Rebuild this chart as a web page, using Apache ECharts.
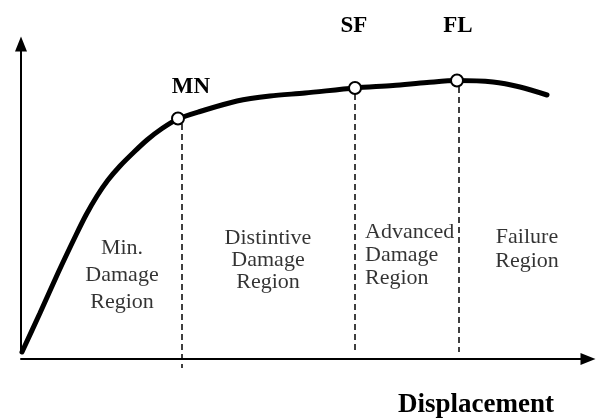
<!DOCTYPE html>
<html>
<head>
<meta charset="utf-8">
<script src="https://cdn.jsdelivr.net/npm/echarts@6/dist/echarts.min.js"></script>
<style>html,body{margin:0;padding:0;background:#fff;}</style>
</head>
<body>
<div id="main" style="width:596px;height:419px;"></div>
<script>
// load-displacement curve (arbitrary units)
var curveX = [1, 19, 37, 55, 65, 76, 87, 99, 112, 126, 141, 157, 179, 216, 249, 284, 334, 372, 406, 436, 472, 499, 526];
var curveY = [0, 39, 79, 117, 137, 156, 172, 186, 199, 212, 223.5, 233, 240.5, 251, 256, 259, 264, 266.5, 269.5, 271.5, 270, 265, 257];

// limit points
var pointNames = ['MN', 'SF', 'FL'];
var pointX = [157, 334, 436];
var pointY = [233.5, 264, 271.5];

// region borders (dashed)
var dashX = [161, 334, 438];
var dashTop = [228, 258, 265];
var dashBottom = [-16, -2, 0];

// region captions
var regionNames = ['Min.\nDamage\nRegion', 'Distintive\nDamage\nRegion', 'Advanced\nDamage\nRegion', 'Failure\nRegion'];
var regionX = [101, 247, 344, 506];
var regionY = [77, 92, 97, 103];

var serif = '"Liberation Serif", "Times New Roman", serif';
var myChart = echarts.init(document.getElementById('main'));

var series = [];
// dashed borders
for (var i = 0; i < dashX.length; i++) {
  series.push({
    type: 'line',
    data: [[dashX[i], dashTop[i]], [dashX[i], dashBottom[i]]],
    symbol: 'none',
    clip: false,
    silent: true,
    lineStyle: { color: '#000', width: 1.5, type: [6, 4] },
    z: 1
  });
}
// main curve
series.push({
  type: 'line',
  data: curveX.map(function (x, k) { return [x, curveY[k]]; }),
  smooth: 0.3,
  symbol: 'none',
  clip: false,
  lineStyle: { color: '#000', width: 5, cap: 'round' },
  z: 2
});
// points with labels
var labelOffsets = [[13, -31], [-1, -62], [1, -54]];
series.push({
  type: 'scatter',
  data: pointNames.map(function (n, k) {
    return {
      name: n,
      value: [pointX[k], pointY[k]],
      label: { offset: labelOffsets[k] }
    };
  }),
  symbol: 'circle',
  symbolSize: 12,
  itemStyle: { color: '#fff', borderColor: '#000', borderWidth: 2, opacity: 1 },
  label: {
    show: true,
    position: 'inside',
    formatter: '{b}',
    color: '#000',
    fontFamily: serif,
    fontWeight: 'bold',
    fontSize: 23
  },
  z: 3
});
// region captions
var regionStyle = [
  { lineHeight: 27, align: 'center' },
  { lineHeight: 22, align: 'center' },
  { lineHeight: 23, align: 'left' },
  { lineHeight: 24, align: 'center' }
];
series.push({
  type: 'scatter',
  data: regionNames.map(function (n, k) {
    return {
      name: n,
      value: [regionX[k], regionY[k]],
      label: regionStyle[k]
    };
  }),
  symbolSize: 0,
  silent: true,
  label: {
    show: true,
    position: [0, 0],
    formatter: '{b}',
    color: '#000',
    fontFamily: serif,
    fontSize: 22,
    verticalAlign: 'middle'
  },
  z: 4
});

var option = {
  animation: false,
  backgroundColor: '#fff',
  grid: { left: 21, right: 8, top: 44, bottom: 67 },
  xAxis: {
    type: 'value',
    min: 0,
    max: 567,
    offset: 7,
    axisLine: {
      show: true, onZero: false,
      symbol: ['none', 'triangle'], symbolSize: [12, 15],
      lineStyle: { color: '#000', width: 2 }
    },
    axisTick: { show: false },
    axisLabel: { show: false },
    splitLine: { show: false }
  },
  yAxis: {
    type: 'value',
    min: 0,
    max: 308,
    axisLine: {
      show: true, onZero: false,
      symbol: ['none', 'triangle'], symbolSize: [12, 15],
      lineStyle: { color: '#000', width: 2 }
    },
    axisTick: { show: false },
    axisLabel: { show: false },
    splitLine: { show: false }
  },
  graphic: [{
    type: 'text',
    x: 476,
    y: 405,
    style: {
      text: 'Displacement',
      fill: '#000',
      font: 'bold 27px ' + serif,
      textAlign: 'center',
      textVerticalAlign: 'middle'
    }
  }],
  series: series
};
myChart.setOption(option);
</script>
</body>
</html>
